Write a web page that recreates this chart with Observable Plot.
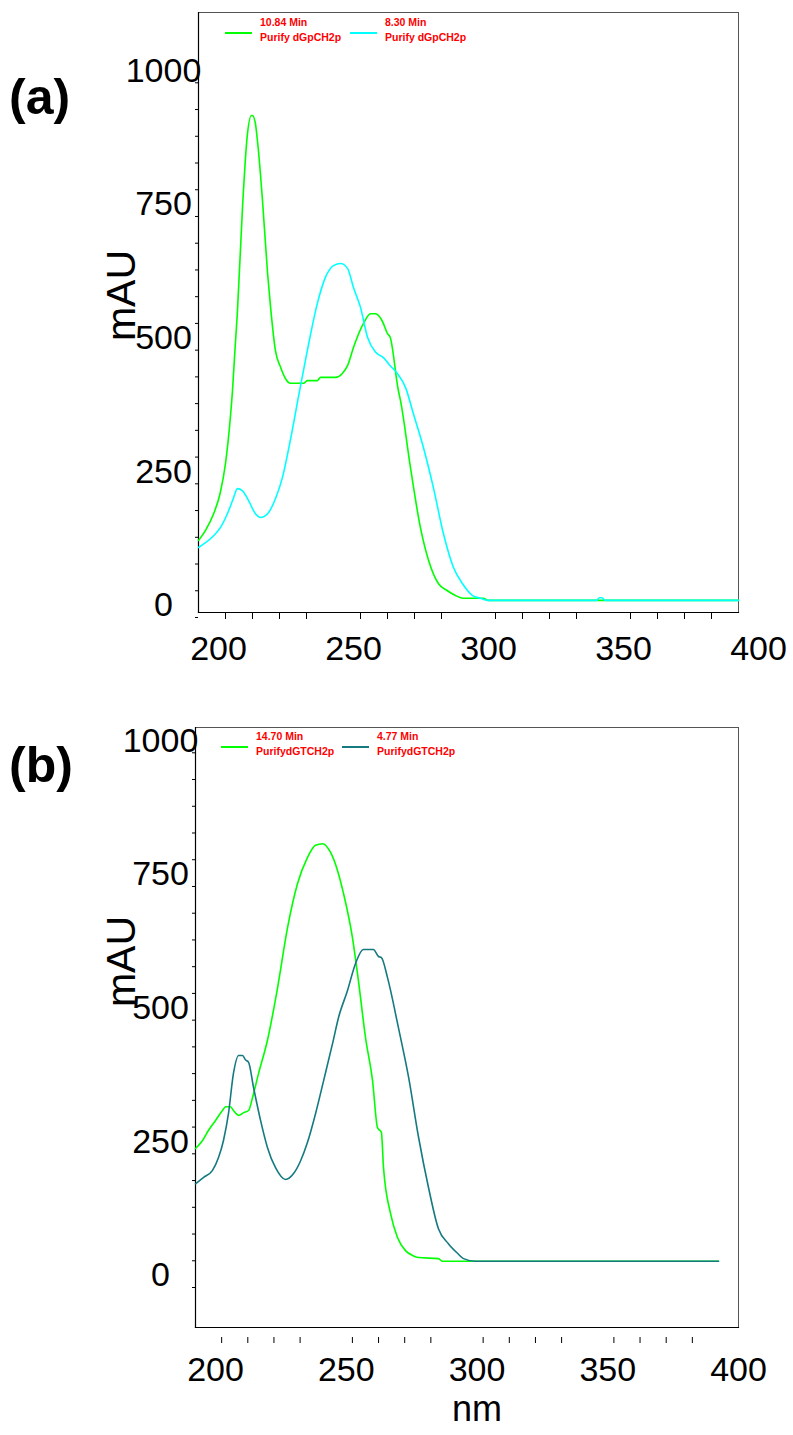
<!DOCTYPE html>
<html>
<head>
<meta charset="utf-8">
<script src="https://cdn.jsdelivr.net/npm/d3@7"></script>
<script src="https://cdn.jsdelivr.net/npm/@observablehq/plot@0.6"></script>
<style>
  html, body { margin: 0; padding: 0; background: #fff; }
  #page { position: relative; width: 793px; height: 1435px; overflow: hidden; font-family: "Liberation Sans", Arial, sans-serif; }
  #page > .panel { position: absolute; left: 0; }
  #overlay { position: absolute; left: 0; top: 0; pointer-events: none; }
</style>
</head>
<body>
<div id="page">
  <div class="panel" id="pa" style="top:0"></div>
  <div class="panel" id="pb" style="top:700px"></div>
  <svg id="overlay" width="793" height="1435"></svg>
</div>
<script>
// ---------------- DATA ----------------
// Panel (a): wavelength (nm) and absorbance (mAU)
const a_green_nm = [200,202.6,205.6,208,210,211.8,212.6,213.5,214.4,216.3,218,219.6,220,221,222.2,223.7,225.6,226.7,228.5,230.4,232.2,234,238.9,240.3,244,245.2,250.7,253.2,255.2,257.4,261.1,263.7,265.6,268,270,271,274,274.8,278.5,282.2,285.2,288.9,292.2,295.2,298.1,305.5,307.4,400];
const a_green_mAU = [144,163,194,232,288,374,425,500,570,767,898,939,939,926,873,780,643,580,499,468,447,438,438,443,443,449,449,456,471,505,550,568,568,555,531,524,425,406,281,168,107,63,50,41,36,36,32,32];
const a_cyan_nm = [200,205.2,208.1,210.7,213,214.4,216.3,218.5,221.1,223,225.6,228.5,231.1,234,237,240.3,244,247,250,252.6,255.2,257.4,260,262.6,265.6,268.5,271,273.7,276.7,279.6,283.3,287,290.7,294.4,297.8,301.5,304.4,307,347.5,348.5,349.5,350.5,400];
const a_cyan_mAU = [131,151,168,194,224,241,237,219,194,187,194,222,262,331,412,499,587,636,658,662,653,617,580,524,496,486,471,456,430,381,318,243,157,94,63,41,36,32,32,37,37,32,32];

// Panel (b)
const b_green_nm = [200,202.7,205,207.6,210.3,211.5,213.4,214.5,216.5,218.4,220.3,221.8,224.1,227.5,231.4,235.2,239,242.8,245.9,248.6,251.6,254.3,256.6,260,262.3,265,267.7,269.6,271.1,271.9,274.6,277.2,280.3,283,285.3,292.9,294.5,400];
const b_green_mAU = [260,275,294,312,331,338,338,331,322,327,331,355,400,462,561,673,755,804,827,830,814,780,737,655,574,468,387,299,290,224,138,94,69,60,56,54,49,49];
const b_teal_nm = [200,203.1,206.5,208.8,210.7,212.6,214.5,216.5,218,219.1,220.3,222.2,224.9,227.5,230.6,234.4,237.5,240.2,242.8,245.9,249,252.4,254.7,258.1,261.2,264.2,268,270,271.1,273.4,277.6,281.5,285.3,289.1,292.9,296.7,300.2,302.5,307,400];
const b_teal_mAU = [194,206,219,243,275,325,400,434,434,426,421,374,312,262,224,202,213,237,271,325,387,456,505,555,606,632,632,619,617,580,486,393,281,187,110,82,64,54,49,49];

// Axis ticks and labels
const xMajorTicks = [200, 250, 300, 350, 400];
const xMinorTicks = [210,220,230,240,260,270,280,290,310,320,330,340,360,370,380,390];
const yMajorTicks = [0, 250, 500, 750, 1000];
const yMinorTicks = d3.range(0, 1001, 50);
const xLabel = "nm";
const yLabel = "mAU";

// Legends
const a_legend = [
  {time: "10.84 Min", name: "Purify dGpCH2p", color: "#00ff00"},
  {time: "8.30 Min",  name: "Purify dGpCH2p", color: "#00ffff"}
];
const b_legend = [
  {time: "14.70 Min", name: "PurifydGTCH2p", color: "#00ff00"},
  {time: "4.77 Min",  name: "PurifydGTCH2p", color: "#147a80"}
];
const panelLabels = ["(a)", "(b)"];

// ---------------- DRAW ----------------
const FONT = "'Liberation Sans', Arial, Helvetica, sans-serif";
function toRows(nm, v) { return nm.map((x, i) => ({nm: x, mAU: v[i]})); }

function panel(cfg) {
  return Plot.plot({
    width: 793,
    height: cfg.height,
    marginLeft: cfg.ml, marginRight: cfg.mr, marginTop: cfg.mt, marginBottom: cfg.mb,
    x: {domain: cfg.xdom},
    y: {domain: cfg.ydom},
    style: {fontFamily: FONT, background: "transparent", color: "#000", overflow: "visible"},
    marks: [
      Plot.frame({stroke: "#555", strokeWidth: 1}),
      Plot.frame({anchor: "left", stroke: "#000", strokeWidth: 1.2}),
      Plot.frame({anchor: "bottom", stroke: "#000", strokeWidth: 1.2}),
      Plot.axisY({ticks: yMinorTicks, tickSize: 3, tickFormat: () => "", label: null, strokeWidth: 1}),
      Plot.text(yMajorTicks, {y: d => d, text: d => String(d), frameAnchor: "left", dx: -35, dy: -12, fontSize: 34, textAnchor: "middle", fill: "#000"}),
      Plot.axisX({ticks: xMinorTicks, tickSize: cfg.xTickSize, tickFormat: () => "", label: null, dy: cfg.xTickDy, strokeWidth: 1}),
      Plot.text(xMajorTicks, {x: d => d, text: d => String(d), frameAnchor: "bottom", dx: 20, dy: cfg.xLabDy, fontSize: 34, textAnchor: "middle", fill: "#000"}),
      Plot.text([yLabel], {frameAnchor: "left", dx: cfg.yTitleDx, dy: cfg.yTitleDy, rotate: -90, fontSize: 41, textAnchor: "middle", lineAnchor: "middle", fill: "#000"}),
      ...(cfg.showX ? [Plot.text([xLabel], {frameAnchor: "bottom", dx: 10, dy: 93, fontSize: 36, textAnchor: "middle", fill: "#000"})] : []),
      ...cfg.series.map(s => Plot.line(s.rows, {x: "nm", y: "mAU", stroke: s.color, strokeWidth: 1.6, curve: "monotone-x"}))
    ]
  });
}

const plotA = panel({
  height: 700, ml: 198, mr: 55, mt: 12, mb: 88,
  xdom: [200, 400], ydom: [9.35, 1131.5],
  xTickSize: 7, xTickDy: 0, xLabDy: 47,
  yTitleDx: -77, yTitleDy: -17, showX: false,
  series: [
    {rows: toRows(a_green_nm, a_green_mAU), color: a_legend[0].color},
    {rows: toRows(a_cyan_nm, a_cyan_mAU), color: a_legend[1].color}
  ]
});
document.getElementById("pa").appendChild(plotA);

const plotB = panel({
  height: 735, ml: 195, mr: 55, mt: 27, mb: 108,
  xdom: [200, 407.65], ydom: [-74.8, 1047.3],
  xTickSize: 6, xTickDy: 10, xLabDy: 53,
  yTitleDx: -74, yTitleDy: -66, showX: true,
  series: [
    {rows: toRows(b_green_nm, b_green_mAU), color: b_legend[0].color},
    {rows: toRows(b_teal_nm, b_teal_mAU), color: b_legend[1].color}
  ]
});
document.getElementById("pb").appendChild(plotB);

// Overlay: panel letters and in-plot legends
const ov = d3.select("#overlay");
ov.selectAll("text.plab").data(panelLabels).join("text")
  .attr("class", "plab")
  .attr("x", 9).attr("y", (d, i) => i === 0 ? 114 : 782)
  .attr("font-family", FONT).attr("font-weight", "bold").attr("font-size", 50)
  .text(d => d);

function legend(items, top, x0, step) {
  items.forEach((it, i) => {
    const x = x0 + i * step;
    ov.append("line").attr("x1", x).attr("x2", x + 27).attr("y1", top + 7).attr("y2", top + 7)
      .attr("stroke", it.color).attr("stroke-width", 2);
    ov.append("text").attr("x", x + 35).attr("y", top).attr("fill", "#ff0000")
      .attr("font-family", FONT).attr("font-weight", "bold").attr("font-size", 10.5).text(it.time);
    ov.append("text").attr("x", x + 35).attr("y", top + 15).attr("fill", "#ff0000")
      .attr("font-family", FONT).attr("font-weight", "bold").attr("font-size", 10.5).text(it.name);
  });
}
legend(a_legend, 26, 225, 125);
legend(b_legend, 740, 221, 121);
</script>
</body>
</html>
